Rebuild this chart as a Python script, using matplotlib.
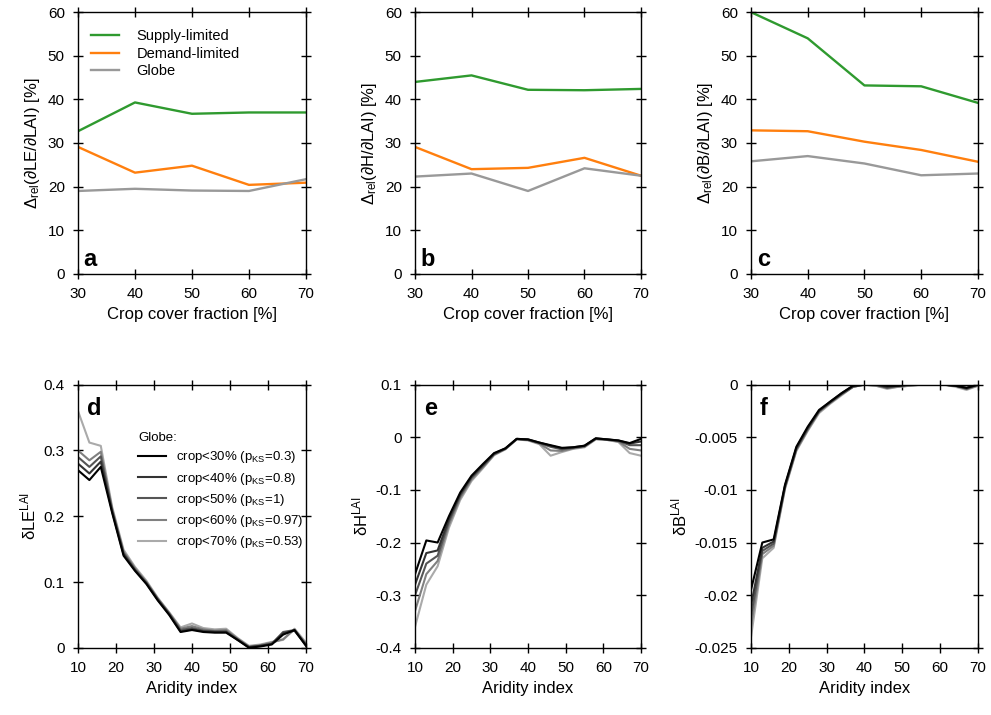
import numpy as np
import matplotlib.pyplot as plt

plt.rcParams['font.family'] = ['Liberation Sans', 'DejaVu Sans']
plt.rcParams['mathtext.fontset'] = 'custom'
plt.rcParams['mathtext.rm'] = 'Liberation Sans'
plt.rcParams['mathtext.it'] = 'Liberation Sans:italic'

# pannelli superiori: frazione di copertura agricola
crop_cover = [30, 40, 50, 60, 70]
series_names = ['Supply-limited', 'Demand-limited', 'Globe']
series_colors = ['#2f9a2f', '#ff7f0e', '#999999']

le_supply = [32.7, 39.3, 36.7, 37.0, 37.0]
le_demand = [29.1, 23.2, 24.8, 20.4, 20.9]
le_globe = [19.0, 19.5, 19.1, 19.0, 21.7]

h_supply = [44.0, 45.5, 42.2, 42.1, 42.4]
h_demand = [29.1, 24.0, 24.3, 26.6, 22.5]
h_globe = [22.3, 23.0, 19.0, 24.2, 22.5]

b_supply = [60.0, 54.0, 43.2, 43.0, 39.2]
b_demand = [32.9, 32.7, 30.3, 28.4, 25.7]
b_globe = [25.8, 27.0, 25.3, 22.6, 23.0]

# pannelli inferiori: indice di aridita'
aridity = [10, 13, 16, 19, 22, 25, 28, 31, 34, 37, 40, 43, 46, 49, 52, 55, 58, 61, 64, 67, 70]
crop_labels = ['crop<30% (p$_{\\rm KS}$=0.3)', 'crop<40% (p$_{\\rm KS}$=0.8)',
               'crop<50% (p$_{\\rm KS}$=1)', 'crop<60% (p$_{\\rm KS}$=0.97)',
               'crop<70% (p$_{\\rm KS}$=0.53)']
crop_colors = ['#000000', '#333333', '#555555', '#808080', '#aaaaaa']

dle = [
    [0.270, 0.255, 0.275, 0.205, 0.140, 0.117, 0.097, 0.072, 0.050, 0.024, 0.027, 0.024, 0.023, 0.023, 0.012, 0.000, 0.002, 0.005, 0.020, 0.027, 0.003],
    [0.280, 0.265, 0.283, 0.207, 0.142, 0.118, 0.098, 0.073, 0.051, 0.025, 0.028, 0.025, 0.024, 0.024, 0.012, 0.001, 0.003, 0.006, 0.022, 0.026, 0.004],
    [0.290, 0.275, 0.291, 0.209, 0.144, 0.119, 0.099, 0.074, 0.052, 0.027, 0.030, 0.026, 0.025, 0.025, 0.013, 0.001, 0.003, 0.006, 0.024, 0.027, 0.005],
    [0.300, 0.285, 0.298, 0.211, 0.146, 0.121, 0.100, 0.075, 0.053, 0.029, 0.033, 0.028, 0.026, 0.027, 0.014, 0.002, 0.004, 0.008, 0.013, 0.028, 0.006],
    [0.360, 0.312, 0.307, 0.214, 0.149, 0.123, 0.102, 0.076, 0.054, 0.031, 0.037, 0.030, 0.028, 0.029, 0.015, 0.003, 0.005, 0.009, 0.012, 0.029, 0.008],
]

dh = [
    [-0.260, -0.196, -0.200, -0.150, -0.105, -0.073, -0.051, -0.030, -0.021, -0.003, -0.004, -0.010, -0.015, -0.020, -0.019, -0.016, -0.002, -0.004, -0.006, -0.011, -0.003],
    [-0.280, -0.220, -0.215, -0.155, -0.108, -0.075, -0.053, -0.031, -0.021, -0.003, -0.004, -0.010, -0.016, -0.021, -0.019, -0.016, -0.002, -0.004, -0.006, -0.012, -0.008],
    [-0.300, -0.240, -0.225, -0.160, -0.111, -0.077, -0.055, -0.032, -0.022, -0.003, -0.005, -0.011, -0.018, -0.023, -0.020, -0.017, -0.003, -0.004, -0.007, -0.015, -0.015],
    [-0.330, -0.260, -0.235, -0.166, -0.115, -0.080, -0.057, -0.033, -0.022, -0.004, -0.005, -0.012, -0.025, -0.026, -0.021, -0.018, -0.003, -0.005, -0.008, -0.022, -0.025],
    [-0.360, -0.280, -0.245, -0.172, -0.119, -0.083, -0.059, -0.034, -0.023, -0.004, -0.006, -0.013, -0.035, -0.028, -0.022, -0.019, -0.004, -0.005, -0.009, -0.030, -0.035],
]

db = [
    [-0.0195, -0.0150, -0.0147, -0.0095, -0.0059, -0.0040, -0.0024, -0.0016, -0.0008, -0.0001, 0.0000, 0.0000, -0.0001, -0.0001, 0.0000, 0.0000, 0.0000, 0.0000, -0.0001, -0.0003, 0.0000],
    [-0.0210, -0.0155, -0.0149, -0.0096, -0.0060, -0.0041, -0.0025, -0.0016, -0.0008, -0.0001, 0.0000, 0.0000, -0.0002, -0.0001, 0.0000, 0.0000, 0.0000, 0.0000, -0.0001, -0.0003, 0.0000],
    [-0.0220, -0.0158, -0.0151, -0.0097, -0.0061, -0.0042, -0.0025, -0.0017, -0.0009, -0.0002, 0.0000, 0.0000, -0.0003, -0.0001, 0.0000, 0.0000, 0.0000, 0.0000, -0.0001, -0.0004, 0.0000],
    [-0.0230, -0.0161, -0.0153, -0.0098, -0.0062, -0.0043, -0.0026, -0.0017, -0.0009, -0.0002, 0.0000, -0.0001, -0.0003, -0.0002, -0.0001, 0.0000, 0.0000, 0.0000, -0.0001, -0.0004, -0.0001],
    [-0.0240, -0.0165, -0.0155, -0.0099, -0.0063, -0.0044, -0.0027, -0.0018, -0.0010, -0.0002, 0.0000, -0.0001, -0.0004, -0.0002, -0.0001, 0.0000, 0.0000, 0.0000, -0.0002, -0.0005, -0.0001],
]

fig = plt.figure(figsize=(9.91, 7.15), dpi=100)

lefts = [0.0787, 0.4188, 0.7578]
widths = [0.230, 0.228, 0.229]
top_axes = [fig.add_axes([lefts[i], 0.617, widths[i], 0.366]) for i in range(3)]
bot_axes = [fig.add_axes([lefts[i], 0.094, widths[i], 0.368]) for i in range(3)]


def stile(ax):
    ax.tick_params(direction='inout', length=7, width=1, top=True, right=True,
                   labelsize=11, pad=6)
    for s in ax.spines.values():
        s.set_linewidth(1)


# Pannelli a, b, c
top_data = [(le_supply, le_demand, le_globe), (h_supply, h_demand, h_globe), (b_supply, b_demand, b_globe)]
top_ylabels = ['$\\Delta_{\\rm rel}$(∂LE/∂LAI) [%]', '$\\Delta_{\\rm rel}$(∂H/∂LAI) [%]',
               '$\\Delta_{\\rm rel}$(∂B/∂LAI) [%]']
top_letters = ['a', 'b', 'c']
for ax, dati, ylab, lett in zip(top_axes, top_data, top_ylabels, top_letters):
    for vals, nome, col in zip(dati, series_names, series_colors):
        ax.plot(crop_cover, vals, color=col, lw=1.7, label=nome)
    ax.set_xlim(30, 70)
    ax.set_ylim(0, 60)
    ax.set_xticks(crop_cover)
    ax.set_yticks(range(0, 61, 10))
    ax.set_xlabel('Crop cover fraction [%]', fontsize=12)
    ax.set_ylabel(ylab, fontsize=12)
    ax.text(0.025, 0.03, lett, transform=ax.transAxes, fontsize=17, fontweight='bold')
    stile(ax)

top_axes[0].legend(loc='upper left', frameon=False, fontsize=10.5, handlelength=1.9,
                   handletextpad=1.2, bbox_to_anchor=(0.0, 0.985), labelspacing=0.25)

# Pannelli d, e, f
bot_data = [dle, dh, db]
bot_ylim = [(0, 0.4), (-0.4, 0.1), (-0.025, 0)]
bot_yticks = [[0, 0.1, 0.2, 0.3, 0.4], [-0.4, -0.3, -0.2, -0.1, 0, 0.1],
              [-0.025, -0.02, -0.015, -0.01, -0.005, 0]]
bot_yticklabels = [['0', '0.1', '0.2', '0.3', '0.4'], ['-0.4', '-0.3', '-0.2', '-0.1', '0', '0.1'],
                   ['-0.025', '-0.02', '-0.015', '-0.01', '-0.005', '0']]
bot_ylabels = ['δLE$^{\\rm LAI}$', 'δH$^{\\rm LAI}$', 'δB$^{\\rm LAI}$']
bot_letters = ['d', 'e', 'f']
for ax, dati, yl, yt, ytl, ylab, lett in zip(bot_axes, bot_data, bot_ylim, bot_yticks,
                                             bot_yticklabels, bot_ylabels, bot_letters):
    for i in range(4, -1, -1):
        ax.plot(aridity, dati[i], color=crop_colors[i], lw=1.5, label=crop_labels[i])
    ax.set_xlim(10, 70)
    ax.set_ylim(*yl)
    ax.set_xticks(range(10, 71, 10))
    ax.set_yticks(yt)
    ax.set_yticklabels(ytl)
    ax.set_xlabel('Aridity index', fontsize=12)
    ax.set_ylabel(ylab, fontsize=12)
    ax.text(0.04, 0.885, lett, transform=ax.transAxes, fontsize=17, fontweight='bold')
    stile(ax)

h, l = bot_axes[0].get_legend_handles_labels()
leg = bot_axes[0].legend(h[::-1], l[::-1], title='Globe:', loc='upper right', frameon=False,
                         fontsize=9.5, title_fontsize=9.5, handlelength=2.1, handletextpad=0.75,
                         bbox_to_anchor=(1.035, 0.86), labelspacing=0.4, borderpad=0.3)
leg._legend_box.align = 'left'

fig.savefig('out.png', dpi=100)
